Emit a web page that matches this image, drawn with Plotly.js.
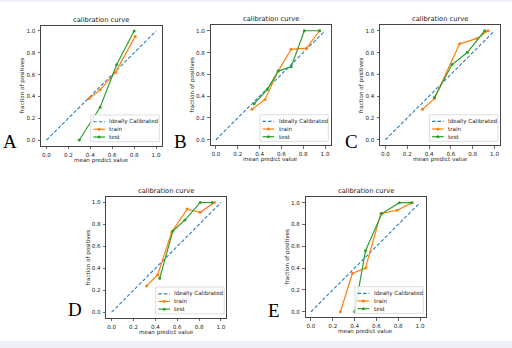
<!DOCTYPE html>
<html>
<head>
<meta charset="utf-8">
<script src="https://cdn.plot.ly/plotly-3.0.1.min.js"></script>
<style>html,body{margin:0;padding:0;background:#fff;}#chart{width:512px;height:348px;}</style>
</head>
<body>
<div id="chart"></div>
<script>
// ---------- data ----------
const panelLetters = ['A', 'B', 'C', 'D', 'E'];
const chartTitle = 'calibration curve';
const xLabel = 'mean predict value';
const yLabel = 'fraction of positives';
const seriesNames = ['Ideally Calibrated', 'train', 'test'];
const tickVals = [0.0, 0.2, 0.4, 0.6, 0.8, 1.0];

const diagX = [0, 1];
const diagY = [0, 1];

const trainA_x = [0.39, 0.49, 0.63, 0.81];
const trainA_y = [0.38, 0.46, 0.62, 0.95];
const testA_x  = [0.30, 0.49, 0.64, 0.80];
const testA_y  = [0.00, 0.30, 0.69, 1.00];

const trainB_x = [0.33, 0.45, 0.57, 0.69, 0.83, 0.95];
const trainB_y = [0.28, 0.37, 0.63, 0.83, 0.84, 1.00];
const testB_x  = [0.35, 0.47, 0.57, 0.69, 0.81, 0.95];
const testB_y  = [0.33, 0.46, 0.63, 0.67, 1.00, 1.00];

const trainC_x = [0.34, 0.45, 0.68, 0.84, 0.94];
const trainC_y = [0.28, 0.38, 0.88, 0.93, 1.00];
const testC_x  = [0.45, 0.61, 0.75, 0.91];
const testC_y  = [0.39, 0.69, 0.80, 1.00];

const trainD_x = [0.32, 0.42, 0.55, 0.69, 0.81, 0.94];
const trainD_y = [0.24, 0.34, 0.73, 0.94, 0.91, 1.00];
const testD_x  = [0.44, 0.56, 0.67, 0.81, 0.92];
const testD_y  = [0.31, 0.74, 0.84, 1.00, 1.00];

const trainE_x = [0.27, 0.38, 0.50, 0.64, 0.79, 0.93];
const trainE_y = [0.00, 0.35, 0.40, 0.90, 0.93, 1.00];
const testE_x  = [0.40, 0.50, 0.65, 0.81, 0.92];
const testE_y  = [0.00, 0.56, 0.90, 1.00, 1.00];

// ---------- layout / style ----------
const W = 512, H = 348;
const FONT = 'DejaVu Sans';
const colDiag = '#2a7dbd', colTrain = '#ff7f0e', colTest = '#2ca02c';
const trainData = {A: [trainA_x, trainA_y], B: [trainB_x, trainB_y], C: [trainC_x, trainC_y], D: [trainD_x, trainD_y], E: [trainE_x, trainE_y]};
const testData  = {A: [testA_x, testA_y], B: [testB_x, testB_y], C: [testC_x, testC_y], D: [testD_x, testD_y], E: [testE_x, testE_y]};
// axes boxes in pixels: [left, right, top, bottom]
const boxes = {
  A: [41, 161.5, 25.5, 145.5],
  B: [210.5, 330.5, 25.3, 145.2],
  C: [380, 500, 25.3, 145.2],
  D: [106.2, 226.4, 197, 317.7],
  E: [305.5, 425.5, 197.2, 317.2]
};
const letterPos = { A: [10, 141], B: [180, 141.5], C: [351.5, 141], D: [75, 309], E: [273.5, 310.5] };

const traces = [];
const layout = {
  width: W, height: H,
  margin: {l: 0, r: 0, t: 0, b: 0},
  paper_bgcolor: '#eef0f9',
  plot_bgcolor: '#ffffff',
  showlegend: false,
  font: {family: FONT, size: 5.5, color: '#222'},
  shapes: [{type: 'rect', xref: 'paper', yref: 'paper', x0: 0, x1: 1, y0: 1 - 341 / H, y1: 1 - 2 / H,
            fillcolor: '#ffffff', line: {width: 0}, layer: 'below'}],
  annotations: []
};

panelLetters.forEach((p, i) => {
  const n = i === 0 ? '' : String(i + 1);
  const xa = 'x' + n, ya = 'y' + n;
  const b = boxes[p];
  const axCommon = {
    range: [-0.05, 1.05], tickvals: tickVals, tickformat: '.1f',
    showgrid: false, zeroline: false, showline: true, mirror: true,
    linecolor: '#444', linewidth: 1, ticks: 'outside', ticklen: 2.5, tickwidth: 0.8, tickcolor: '#444',
    tickfont: {family: FONT, size: 5.6, color: '#222'}, fixedrange: true
  };
  layout['xaxis' + n] = Object.assign({}, axCommon, {domain: [b[0] / W, b[1] / W], anchor: ya, ticklabelstandoff: 1});
  layout['yaxis' + n] = Object.assign({}, axCommon, {domain: [1 - b[3] / H, 1 - b[2] / H], anchor: xa, ticklabelstandoff: 1});

  traces.push({x: diagX, y: diagY, xaxis: xa, yaxis: ya, mode: 'lines', name: seriesNames[0],
               line: {color: colDiag, width: 1.1, dash: '3.5px,2px'}});
  traces.push({x: trainData[p][0], y: trainData[p][1], xaxis: xa, yaxis: ya, mode: 'lines+markers', name: seriesNames[1],
               line: {color: colTrain, width: 1.2}, marker: {color: colTrain, size: 3}});
  traces.push({x: testData[p][0], y: testData[p][1], xaxis: xa, yaxis: ya, mode: 'lines+markers', name: seriesNames[2],
               line: {color: colTest, width: 1.2}, marker: {color: colTest, size: 3}});

  const xd = xa + ' domain', yd = ya + ' domain';
  // title
  layout.annotations.push({text: chartTitle, xref: xd, yref: yd, x: 0.5, y: 1, xanchor: 'center', yanchor: 'bottom',
    yshift: 0, showarrow: false, font: {family: FONT, size: 6.7, color: '#222'}});
  // axis labels
  layout.annotations.push({text: xLabel, xref: xd, yref: yd, x: 0.5, y: 0, xanchor: 'center', yanchor: 'middle',
    yshift: -14.5, showarrow: false, font: {family: FONT, size: 5.6, color: '#222'}});
  layout.annotations.push({text: yLabel, xref: xd, yref: yd, x: 0, y: 0.5, xanchor: 'center', yanchor: 'middle',
    xshift: -18.3, textangle: -90, showarrow: false, font: {family: FONT, size: 5.6, color: '#222'}});
  // panel letter
  layout.annotations.push({text: p, xref: 'paper', yref: 'paper', x: letterPos[p][0] / W, y: 1 - letterPos[p][1] / H,
    xanchor: 'center', yanchor: 'middle', showarrow: false, font: {family: 'Liberation Serif', size: 19, color: '#000'}});

  // legend (matplotlib style, lower right)
  layout.shapes.push({type: 'rect', xref: xd, yref: yd, x0: 0.412, x1: 0.982, y0: 0.032, y1: 0.254,
    fillcolor: 'rgba(255,255,255,0.8)', line: {color: '#d6d6d6', width: 0.8}});
  const rows = [0.198, 0.135, 0.071];
  const cols = [colDiag, colTrain, colTest];
  rows.forEach((ry, k) => {
    layout.shapes.push({type: 'line', xref: xd, yref: yd, x0: 0.434, x1: 0.531, y0: ry, y1: ry,
      line: {color: cols[k], width: 1.2, dash: k === 0 ? '3.5px,2px' : 'solid'}});
    if (k > 0) {
      layout.shapes.push({type: 'circle', xref: xd, yref: yd, xsizemode: 'pixel', ysizemode: 'pixel',
        xanchor: 0.4825, yanchor: ry, x0: -1.5, x1: 1.5, y0: -1.5, y1: 1.5,
        fillcolor: cols[k], line: {color: cols[k], width: 0}});
    }
    layout.annotations.push({text: seriesNames[k], xref: xd, yref: yd, x: 0.55, y: ry, xanchor: 'left', yanchor: 'middle',
      showarrow: false, font: {family: FONT, size: 5.6, color: '#222'}});
  });
});

Plotly.newPlot('chart', traces, layout, {displayModeBar: false, staticPlot: true});
</script>
</body>
</html>
